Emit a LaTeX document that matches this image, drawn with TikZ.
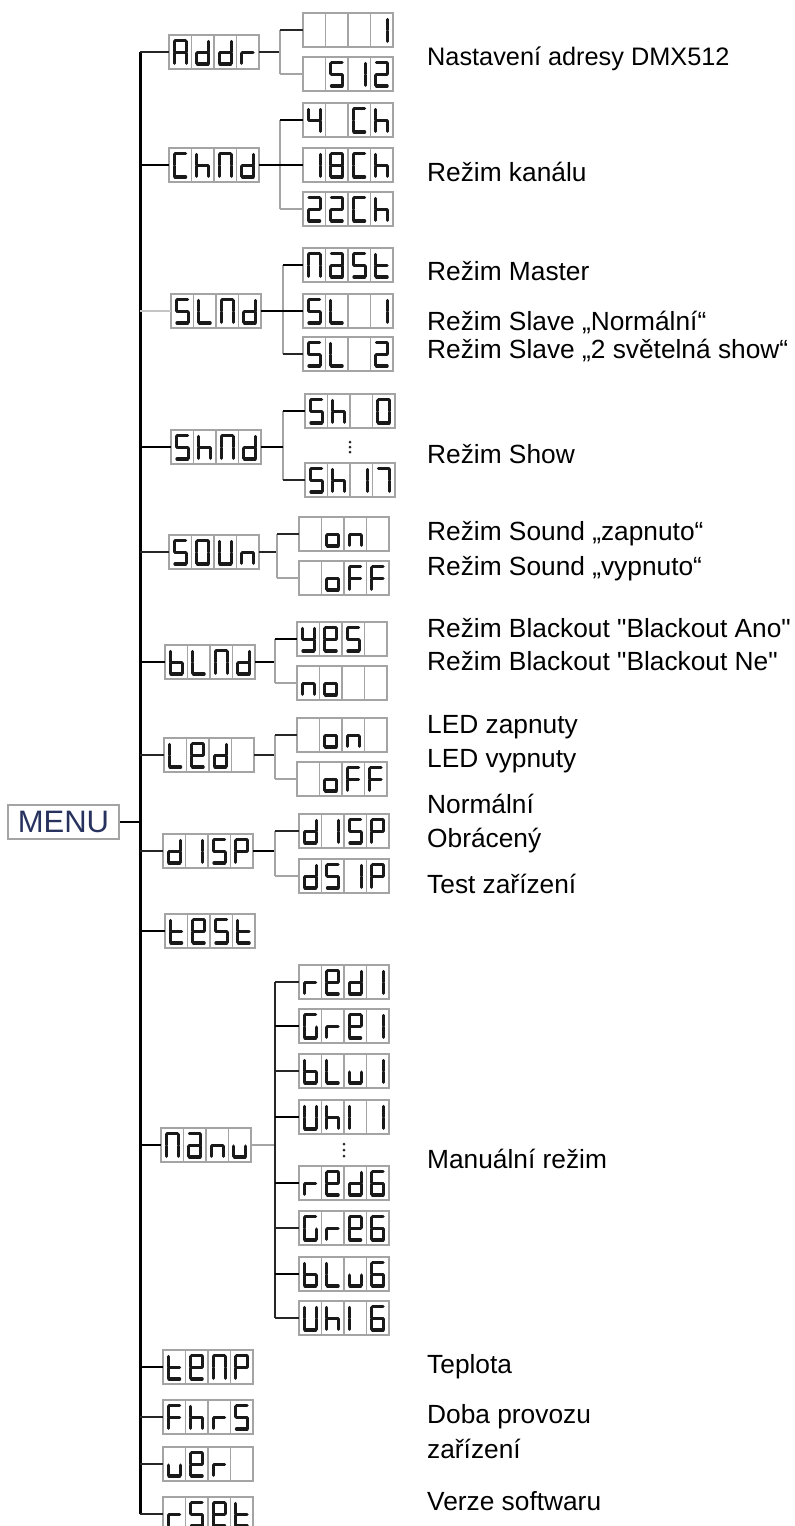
\documentclass[tikz,border=0pt]{standalone}
\usepackage{fontspec}
\setmainfont{Liberation Sans}
\definecolor{frame}{HTML}{A4A4A4}
\definecolor{lgray}{HTML}{C4C4C4}
\definecolor{menublue}{HTML}{27325E}
\tikzset{
  seg/.style={line width=3.3pt, line cap=round, black!90},
  cellframe/.style={draw=frame, line width=1.1pt},
  lcdbox/.style={draw=none, minimum width=90pt, minimum height=34pt, inner sep=0pt},
  trunk/.style={line width=3pt, black},
  thk/.style={line width=2.6pt, black},
  thn/.style={line width=1.1pt, black!85},
  gry/.style={line width=1.1pt, frame},
  lgr/.style={line width=1.5pt, lgray},
  lbl/.style={anchor=base west, inner sep=0pt, font=\fontsize{26.3}{30}\selectfont},
  menubox/.style={draw=frame, line width=1.3pt, minimum width=111pt, minimum height=34pt, inner sep=0pt,
     text=menublue, font=\fontsize{31}{34}\selectfont}
}
% segment geometry (cell-local, y downwards)
\def\sL{5.3}\def\sR{17.3}\def\sT{5.8}\def\sM{17.4}\def\sB{29}\def\sg{0.7}
\newcommand\sgma{\draw[seg] ({\sL+\sg},\sT) -- ({\sR-\sg},\sT);}
\newcommand\sgmb{\draw[seg] (\sR,{\sT+\sg}) -- (\sR,{\sM-\sg});}
\newcommand\sgmc{\draw[seg] (\sR,{\sM+\sg}) -- (\sR,{\sB-\sg});}
\newcommand\sgmd{\draw[seg] ({\sL+\sg},\sB) -- ({\sR-\sg},\sB);}
\newcommand\sgme{\draw[seg] (\sL,{\sM+\sg}) -- (\sL,{\sB-\sg});}
\newcommand\sgmf{\draw[seg] (\sL,{\sT+\sg}) -- (\sL,{\sM-\sg});}
\newcommand\sgmg{\draw[seg] ({\sL+\sg},\sM) -- ({\sR-\sg},\sM);}
% characters
\def\cA{a,b,c,e,f,g}
\def\ca{a,b,c,d,e,g}
\def\cb{c,d,e,f,g}
\def\cC{a,d,e,f}
\def\cd{b,c,d,e,g}
\def\cE{a,b,d,e,f,g}
\def\cF{a,e,f,g}
\def\cG{a,c,d,e,f}
\def\ch{c,e,f,g}
\def\cI{b,c}
\def\cl{e,f}
\def\cL{d,e,f}
\def\cN{a,b,c,e,f}
\def\cn{c,e,g}
\def\cO{a,b,c,d,e,f}
\def\co{c,d,e,g}
\def\cP{a,b,e,f,g}
\def\cr{e,g}
\def\cS{a,c,d,f,g}
\def\ct{d,e,f,g}
\def\cU{b,c,d,e,f}
\def\cu{c,d,e}
\def\cy{b,c,d,f,g}
\def\cTwo{a,b,d,e,g}
\def\cFour{b,c,f,g}
\def\cSix{a,c,d,e,f,g}
\def\cSeven{a,b,c}
\def\cEight{a,b,c,d,e,f,g}
\def\cX{x}
\newcommand\lcdcell[3]{%
  \begin{scope}[shift={({#1},{#2})}]
    \draw[cellframe] (0,0) rectangle (22.5,34);
    \foreach \s in #3 {\csname sgm\s\endcsname}
  \end{scope}}
\newcommand\lcd[7]{%
  \node[lcdbox] (#1) at ({#2+45},{#3}) {};
  \lcdcell{#2}{#3-17}{#4}%
  \lcdcell{#2+22.5}{#3-17}{#5}%
  \lcdcell{#2+45}{#3-17}{#6}%
  \lcdcell{#2+67.5}{#3-17}{#7}}
\begin{document}
\begin{tikzpicture}[x=1pt,y=-1pt]
\useasboundingbox (0,0) rectangle (795,1526);
% ---------- main level ----------
\node[menubox] (menu) at (63.5,822) {MENU};
\lcd{addr}{169}{52}{\cA}{\cd}{\cd}{\cr}
\lcd{chnd}{169}{165}{\cC}{\ch}{\cN}{\cd}
\lcd{slnd}{171}{311}{\cS}{\cL}{\cN}{\cd}
\lcd{shnd}{171}{447}{\cS}{\ch}{\cN}{\cd}
\lcd{soun}{169}{552}{\cS}{\cO}{\cU}{\cn}
\lcd{blnd}{165}{662}{\cb}{\cL}{\cN}{\cd}
\lcd{led}{164}{755}{\cL}{\cE}{\cd}{\cX}
\lcd{disp}{163}{851}{\cd}{\cI}{\cS}{\cP}
\lcd{test}{165}{931}{\ct}{\cE}{\cS}{\ct}
\lcd{manu}{161}{1145}{\cN}{\ca}{\cn}{\cu}
\lcd{tenp}{163}{1367}{\ct}{\cE}{\cN}{\cP}
\lcd{fhrs}{163}{1417}{\cF}{\ch}{\cr}{\cS}
\lcd{ver}{163}{1464}{\cu}{\cE}{\cr}{\cX}
\lcd{rset}{163}{1514}{\cr}{\cS}{\cE}{\ct}
% ---------- sub level ----------
\lcd{a1}{303}{30}{\cX}{\cX}{\cX}{\cI}
\lcd{a2}{303}{74}{\cX}{\cS}{\cI}{\cTwo}
\lcd{c1}{303}{120}{\cFour}{\cX}{\cC}{\ch}
\lcd{c2}{303}{165}{\cI}{\cEight}{\cC}{\ch}
\lcd{c3}{303}{209}{\cTwo}{\cTwo}{\cC}{\ch}
\lcd{s1}{303}{265}{\cN}{\ca}{\cS}{\ct}
\lcd{s2}{303}{311}{\cS}{\cL}{\cX}{\cI}
\lcd{s3}{303}{354}{\cS}{\cL}{\cX}{\cTwo}
\lcd{h1}{305}{411}{\cS}{\ch}{\cX}{\cO}
\lcd{h2}{305}{480}{\cS}{\ch}{\cI}{\cSeven}
\lcd{o1}{299}{534}{\cX}{\co}{\cn}{\cX}
\lcd{o2}{299}{578}{\cX}{\co}{\cF}{\cF}
\lcd{b1}{297}{639}{\cy}{\cE}{\cS}{\cX}
\lcd{b2}{297}{683}{\cn}{\co}{\cX}{\cX}
\lcd{l1}{297}{735}{\cX}{\co}{\cn}{\cX}
\lcd{l2}{297}{779}{\cX}{\co}{\cF}{\cF}
\lcd{d1}{299}{831}{\cd}{\cI}{\cS}{\cP}
\lcd{d2}{299}{876}{\cd}{\cS}{\cI}{\cP}
\lcd{m1}{299}{982}{\cr}{\cE}{\cd}{\cI}
\lcd{m2}{299}{1026}{\cG}{\cr}{\cE}{\cI}
\lcd{m3}{299}{1071}{\cb}{\cL}{\cu}{\cI}
\lcd{m4}{299}{1117}{\cU}{\ch}{\cl}{\cI}
\lcd{m5}{299}{1183}{\cr}{\cE}{\cd}{\cSix}
\lcd{m6}{299}{1228}{\cG}{\cr}{\cE}{\cSix}
\lcd{m7}{299}{1274}{\cb}{\cL}{\cu}{\cSix}
\lcd{m8}{299}{1318}{\cU}{\ch}{\cl}{\cSix}
% ---------- trunk ----------
\coordinate (tT) at (140,52);
\coordinate (tB) at (140,1514);
\draw[trunk] (tT) -- (tB);
\draw[thk] (menu.east) -- (menu.east -| tT);
\draw[thn] (addr.west -| tT) -- (addr.west);
\draw[thk] (chnd.west -| tT) -- (chnd.west);
\draw[lgr] (slnd.west -| tT) -- (slnd.west);
\draw[thk] (shnd.west -| tT) -- (shnd.west);
\draw[thn] (soun.west -| tT) -- (soun.west);
\draw[thk] (blnd.west -| tT) -- (blnd.west);
\draw[thn] (led.west -| tT) -- (led.west);
\draw[thn] (disp.west -| tT) -- (disp.west);
\draw[thk] (test.west -| tT) -- (test.west);
\draw[thk] (manu.west -| tT) -- (manu.west);
\draw[thk] (tenp.west -| tT) -- (tenp.west);
\draw[thn] (fhrs.west -| tT) -- (fhrs.west);
\draw[thn] (ver.west -| tT) -- (ver.west);
\draw[thn] (rset.west -| tT) -- (rset.west);
% ---------- branches ----------
% Addr
\coordinate (ja) at (280,52);
\draw[thn] (addr.east) -- (ja);
\draw[gry] (ja |- a1.west) -- (ja |- a2.west);
\draw[thn] (ja |- a1.west) -- (a1.west);
\draw[gry] (ja |- a2.west) -- (a2.west);
% ChNd
\coordinate (jc) at (280,165);
\draw[gry] (jc |- c1.west) -- (jc |- c3.west);
\draw[thk] (chnd.east) -- (c2.west);
\draw[thk] (jc |- c1.west) -- (c1.west);
\draw[gry] (jc |- c3.west) -- (c3.west);
% SLNd
\coordinate (js) at (283,311);
\draw[gry] (js |- s1.west) -- (js |- s3.west);
\draw[thk] (slnd.east) -- (s2.west);
\draw[thk] (js |- s1.west) -- (s1.west);
\draw[thn] (js |- s3.west) -- (s3.west);
% ShNd
\coordinate (jh) at (283,447);
\draw[gry] (jh |- h1.west) -- (jh |- h2.west);
\draw[thk] (shnd.east) -- (jh);
\draw[thk] (jh |- h1.west) -- (h1.west);
\draw[thn] (jh |- h2.west) -- (h2.west);
\fill[black!85] (350,442) circle (1.5) (350,447) circle (1.5) (350,452) circle (1.5);
% SOUn
\coordinate (jo) at (277,552);
\draw[thn] (soun.east) -- (jo);
\draw[gry] (jo |- o1.west) -- (jo |- o2.west);
\draw[thn] (jo |- o1.west) -- (o1.west);
\draw[gry] (jo |- o2.west) -- (o2.west);
% bLNd
\coordinate (jb) at (275,662);
\draw[thk] (blnd.east) -- (jb);
\draw[gry] (jb |- b1.west) -- (jb |- b2.west);
\draw[thk] (jb |- b1.west) -- (b1.west);
\draw[gry] (jb |- b2.west) -- (b2.west);
% LEd
\coordinate (jl) at (275,755);
\draw[thn] (led.east) -- (jl);
\draw[gry] (jl |- l1.west) -- (jl |- l2.west);
\draw[thn] (jl |- l1.west) -- (l1.west);
\draw[gry] (jl |- l2.west) -- (l2.west);
% dISP
\coordinate (jd) at (275,851);
\draw[thk] (disp.east) -- (jd);
\draw[gry] (jd |- d1.west) -- (jd |- d2.west);
\draw[thn] (jd |- d1.west) -- (d1.west);
\draw[gry] (jd |- d2.west) -- (d2.west);
% Manu
\coordinate (jm) at (275,1145);
\draw[gry] (manu.east) -- (jm);
\draw[thn] (jm |- m1.west) -- (jm |- m8.west);
\draw[thn] (jm |- m1.west) -- (m1.west);
\draw[thk] (jm |- m2.west) -- (m2.west);
\draw[thn] (jm |- m3.west) -- (m3.west);
\draw[thk] (jm |- m4.west) -- (m4.west);
\draw[thk] (jm |- m5.west) -- (m5.west);
\draw[thn] (jm |- m6.west) -- (m6.west);
\draw[thk] (jm |- m7.west) -- (m7.west);
\draw[thn] (jm |- m8.west) -- (m8.west);
\fill[black!85] (344,1144) circle (1.5) (344,1150) circle (1.5) (344,1156) circle (1.5);
% ---------- labels ----------
\node[lbl, font=\fontsize{25.3}{30}\selectfont] (t1) at (427,65) {Nastavení adresy DMX512};
\node[lbl] (t2) at (427,181) {Režim kanálu};
\node[lbl] (t3) at (427,280) {Režim Master};
\node[lbl] (t4) at (427,330) {Režim Slave „Normální“};
\node[lbl] (t5) at (427,358) {Režim Slave „2 světelná show“};
\node[lbl] (t6) at (427,463) {Režim Show};
\node[lbl] (t7) at (427,540) {Režim Sound „zapnuto“};
\node[lbl] (t8) at (427,575) {Režim Sound „vypnuto“};
\node[lbl] (t9) at (427,637) {Režim Blackout \textquotedbl Blackout Ano\textquotedbl};
\node[lbl] (t10) at (427,670) {Režim Blackout \textquotedbl Blackout Ne\textquotedbl};
\node[lbl] (t11) at (427,733) {LED zapnuty};
\node[lbl] (t12) at (427,767) {LED vypnuty};
\node[lbl] (t13) at (427,813) {Normální};
\node[lbl] (t14) at (427,847) {Obrácený};
\node[lbl] (t15) at (427,893) {Test zařízení};
\node[lbl] (t16) at (427,1168) {Manuální režim};
\node[lbl] (t17) at (427,1373) {Teplota};
\node[lbl] (t18) at (427,1423) {Doba provozu};
\node[lbl] (t19) at (427,1458) {zařízení};
\node[lbl] (t20) at (427,1510) {Verze softwaru};
\end{tikzpicture}
\end{document}
